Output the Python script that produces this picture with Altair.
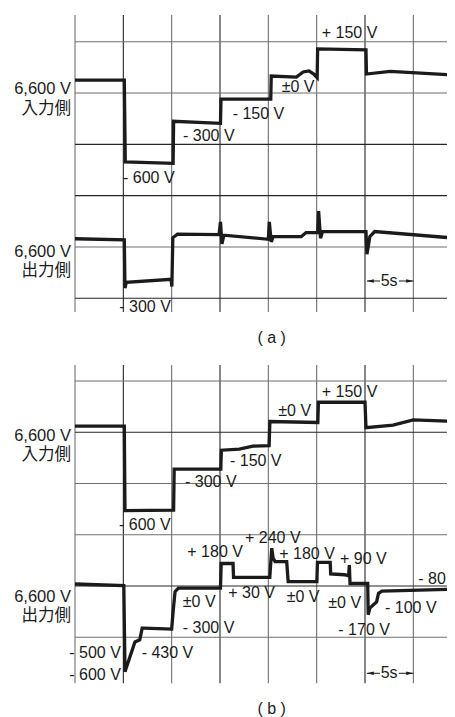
import altair as alt
import pandas as pd

# ---------------- data read from the recording ----------------
# time in seconds (one grid division = 5 s), level in grid divisions
grid_t_dark = [5, 15, 30]
grid_t_gray = [0, 10, 20, 25, 35]
a_rows_dark = [0, 2, 3]
a_rows_gray = [1, 4, 5]
b_rows_dark = [1, 4]
b_rows_gray = [0, 2, 3, 5]

# (a) input side
a_in_t = [0, 5.1, 5.2, 10.15, 10.2, 15.05, 15.1, 20.25, 20.3, 22.9, 23.6, 24.2, 24.7, 25.05, 25.1, 30.1, 30.15, 32.6, 39.4]
a_in_d = [4.25, 4.25, 2.66, 2.63, 3.45, 3.41, 3.88, 3.88, 4.33, 4.31, 4.41, 4.43, 4.37, 4.30, 4.86, 4.84, 4.37, 4.42, 4.35]
# (a) output side
a_out_t = [0, 5.1, 5.17, 5.3, 9.95, 10.02, 10.12, 10.6, 14.9, 15.05, 15.2, 15.4, 20.0, 20.1, 20.3, 20.5, 23.4, 23.9,
           25.1, 25.2, 25.4, 25.6, 30.1, 30.2, 30.5, 31.0, 39.4]
a_out_d = [1.16, 1.14, 0.20, 0.31, 0.37, 0.23, 1.18, 1.25, 1.24, 1.49, 1.06, 1.23, 1.15, 1.49, 1.10, 1.20, 1.20, 1.28,
           1.28, 1.70, 1.17, 1.30, 1.30, 0.86, 1.20, 1.30, 1.17]
# (b) input side
b_in_t = [0, 5.1, 5.17, 10.2, 10.26, 15.08, 15.14, 17.0, 18.4, 20.08, 20.16, 25.12, 25.18, 30.0, 30.1, 32.9, 35.0, 39.4]
b_in_d = [4.12, 4.12, 2.47, 2.48, 3.28, 3.28, 3.65, 3.67, 3.73, 3.74, 4.21, 4.19, 4.585, 4.585, 4.09, 4.14, 4.24, 4.21]
# (b) output side
b_out_t = [0, 5.05, 5.17, 6.2, 6.7, 6.95, 7.1, 10.0, 10.15, 10.35, 10.7, 15.05, 15.12, 16.35, 16.4, 20.15, 20.35,
           20.5, 20.7, 21.9, 22.05, 25.02, 25.08, 26.4, 26.45, 27.9, 28.3, 28.38, 28.45, 30.28, 30.33, 30.5, 31.2,
           31.4, 31.75, 39.4]
b_out_d = [1.04, 1.01, -0.67, -0.09, -0.05, 0.18, 0.18, 0.16, 0.5, 0.89, 0.96, 0.96, 1.44, 1.44, 1.17, 1.17, 1.74,
           1.54, 1.475, 1.475, 1.085, 1.085, 1.46, 1.46, 1.235, 1.22, 1.20, 1.41, 1.05, 1.05, 0.44, 0.57, 0.69,
           0.86, 0.90, 0.94]

# labels
side_text = [["6,600 V", "入力側"], ["6,600 V", "出力側"]]
a_side_d = [4.07, 0.905]
b_side_d = [3.93, 0.79]

a_lab = ["- 600 V", "- 300 V", "- 150 V", "±0 V", "+ 150 V", "- 300 V"]
a_lab_t = [4.97, 11.17, 16.31, 21.38, 25.52, 4.58]
a_lab_d = [2.345, 3.163, 3.585, 4.123, 5.164, -0.175]

b_lab = ["- 600 V", "- 300 V", "- 150 V", "±0 V", "+ 150 V", "+ 180 V", "±0 V", "- 300 V", "- 430 V",
         "+ 240 V", "+ 30 V", "+ 180 V", "±0 V", "+ 90 V", "±0 V", "- 170 V", "- 100 V", "- 80 V",
         "- 500 V", "- 600 V"]
b_lab_t = [4.55, 11.38, 16.03, 21.03, 25.52, 11.62, 11.15, 11.15, 6.9, 17.59, 15.86, 21.13, 21.9, 27.41,
           26.2, 27.24, 32.07, 35.51, -0.59, -0.59]
b_lab_d = [2.19, 3.035, 3.44, 4.415, 4.79, 1.658, 0.695, 0.176, -0.312, 1.931, 0.87, 1.619, 0.792, 1.527,
           0.675, 0.142, 0.566, 1.131, -0.312, -0.735]

span_t = [30, 35]          # the marked 5 s interval
a_span_d = 0.337
b_span_d = -0.702
captions = ["(  a  )", "(  b  )"]
caption_t = 20.35
a_caption_d = -0.78
b_caption_d = -1.40

a_vert = [-0.267, 5.52]
b_vert = [-0.897, 5.312]

# ---------------- chart ----------------
INK = "#1b1b1b"
FONT = "Liberation Sans"
xs = alt.Scale(domain=[0, 40], range=[67, 453.67], nice=False, zero=False)


def panel(in_t, in_d, out_t, out_d, rows_dark, rows_gray, vert, side_d,
          lab, lab_t, lab_d, span_d, cap, cap_d, yrange):
    ys = alt.Scale(domain=[0, 5], range=yrange, nice=False, zero=False)
    X = lambda f: alt.X(f, type="quantitative", scale=xs, axis=None)
    Y = lambda f: alt.Y(f, type="quantitative", scale=ys, axis=None)

    layers = []
    for tl, col in ((grid_t_gray, "#6f6f6f"), (grid_t_dark, "#262626")):
        layers.append(alt.Chart(pd.DataFrame({"t": tl})).mark_rule(color=col, strokeWidth=1.1).encode(
            x=X("t"), y=alt.Y(datum=vert[0], scale=ys, axis=None), y2=alt.Y2(datum=vert[1])))
    for rl, col in ((rows_gray, "#6f6f6f"), (rows_dark, "#262626")):
        layers.append(alt.Chart(pd.DataFrame({"d": rl})).mark_rule(color=col, strokeWidth=1.1).encode(
            y=Y("d"), x=alt.X(datum=0, scale=xs, axis=None), x2=alt.X2(datum=40)))
    for tt, dd in ((in_t, in_d), (out_t, out_d)):
        df = pd.DataFrame({"t": tt, "d": dd, "i": list(range(len(tt)))})
        layers.append(alt.Chart(df).mark_line(color=INK, strokeWidth=3.3, strokeJoin="miter",
                                               strokeMiterLimit=3).encode(
            x=X("t"), y=Y("d"), order=alt.Order("i:Q")))
    # side labels (two lines each)
    sdf = pd.DataFrame({"s": side_text, "d": side_d, "t": [-0.41, -0.41]})
    layers.append(alt.Chart(sdf).mark_text(align="right", baseline="middle",
                                           font="Liberation Sans, Noto Sans CJK JP", fontSize=16.5,
                                           lineHeight=19.5, color=INK).encode(
        x=X("t"), y=Y("d"), text="s"))
    # level labels
    ldf = pd.DataFrame({"s": lab, "t": lab_t, "d": lab_d})
    layers.append(alt.Chart(ldf).mark_text(align="left", baseline="middle", font=FONT, fontSize=16,
                                           color=INK).encode(x=X("t"), y=Y("d"), text="s:N"))
    # 5 s marker
    segs = pd.DataFrame({"t0": [span_t[0] + 0.2, (span_t[0] + span_t[1]) / 2 + 1.0],
                         "t1": [(span_t[0] + span_t[1]) / 2 - 0.95, span_t[1]]})
    layers.append(alt.Chart(segs).mark_rule(color=INK, strokeWidth=1).encode(
        x=X("t0"), x2="t1:Q", y=alt.Y(datum=span_d, scale=ys, axis=None)))
    heads = pd.DataFrame({"t": [span_t[0] + 0.55, span_t[1] - 0.38],
                          "shape": ["M -1 0 L 1 -0.5 L 1 0.5 Z", "M 1 0 L -1 -0.5 L -1 0.5 Z"]})
    layers.append(alt.Chart(heads).mark_point(filled=True, color=INK, size=49, opacity=1).encode(
        x=X("t"), y=alt.Y(datum=span_d, scale=ys, axis=None),
        shape=alt.Shape("shape:N", scale=None)))
    mdf = pd.DataFrame({"s": ["5s"], "t": [(span_t[0] + span_t[1]) / 2]})
    layers.append(alt.Chart(mdf).mark_text(align="center", baseline="middle", font=FONT, fontSize=16,
                                           color=INK).encode(
        x=X("t"), y=alt.Y(datum=span_d, scale=ys, axis=None), text="s:N"))
    cdf = pd.DataFrame({"s": [cap], "t": [caption_t]})
    layers.append(alt.Chart(cdf).mark_text(align="center", baseline="middle", font=FONT, fontSize=16,
                                           color=INK).encode(
        x=X("t"), y=alt.Y(datum=cap_d, scale=ys, axis=None), text="s:N"))
    return alt.layer(*layers)


panel_a = panel(a_in_t, a_in_d, a_out_t, a_out_d, a_rows_dark, a_rows_gray, a_vert, a_side_d,
                a_lab, a_lab_t, a_lab_d, a_span_d, captions[0], a_caption_d, [290.3, 33.7])
panel_b = panel(b_in_t, b_in_d, b_out_t, b_out_d, b_rows_dark, b_rows_gray, b_vert, b_side_d,
                b_lab, b_lab_t, b_lab_d, b_span_d, captions[1], b_caption_d, [629.3, 373.0])

chart = alt.layer(panel_a, panel_b).resolve_scale(y="independent").properties(
    width=439, height=709, padding=0, autosize=alt.AutoSizeParams(type="none"), background="white"
).configure_view(stroke=None)

chart.save("out.html", embed_options={"renderer": "svg", "actions": False})
